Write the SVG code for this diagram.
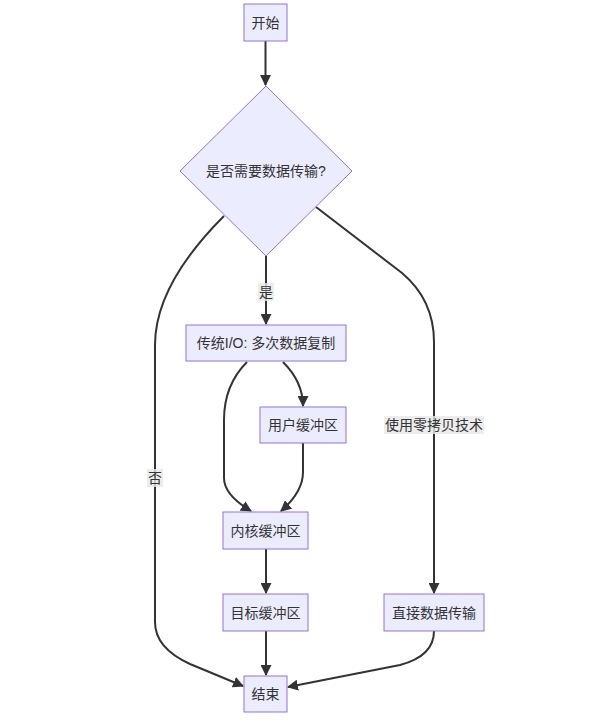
<svg xmlns="http://www.w3.org/2000/svg" width="590" height="720" viewBox="0 0 590 720">
<defs>
<marker id="arr" viewBox="0 0 10 10" refX="9" refY="5" markerUnits="userSpaceOnUse" markerWidth="11" markerHeight="11" orient="auto">
<path d="M0,0 L10,5 L0,10 z" fill="#333333"/>
</marker>
<style>
.node rect, .node polygon { fill: #ECECFF; stroke: #9370DB; stroke-width: 1px; }
text { font-family: "Liberation Sans", "Noto Sans CJK SC", sans-serif; font-size: 14px; fill: #333333; text-anchor: middle; dominant-baseline: central; }
.edge { fill: none; stroke: #333333; stroke-width: 2px; marker-end: url(#arr); }
.lbl { fill: #e8e8e8; fill-opacity: 0.8; stroke: none; }
</style>
</defs>
<rect width="590" height="720" fill="#ffffff"/>
<g id="connectors">
<path class="edge" d="M265.5,41 L265.5,85"/>
<path class="edge" d="M266,256 L266,324"/>
<path class="edge" d="M224,216 Q155,285 155,345 L155,622 Q155,648 190,664 L243,686"/>
<path class="edge" d="M316,207 L402,273 Q434,300 434,342 L434,593"/>
<path class="edge" d="M283,362 Q303,382 303,406"/>
<path class="edge" d="M247,362 Q224,385 224,420 L224,478 Q224,495 251,511"/>
<path class="edge" d="M303,443 L303,472 Q303,492 281,511"/>
<path class="edge" d="M266,549 L266,593"/>
<path class="edge" d="M266,631 L266,675"/>
<path class="edge" d="M434,631 Q434,656 400,665 L288,687"/>
<rect class="lbl" x="258" y="283" width="16" height="18"/>
<text x="266" y="292">是</text>
<rect class="lbl" x="147" y="469" width="16" height="18"/>
<text x="155" y="478">否</text>
<rect class="lbl" x="384" y="416" width="100" height="18"/>
<text x="434" y="425">使用零拷贝技术</text>
</g>
<g id="start" class="node">
<rect x="244" y="4" width="43" height="37"/>
<text x="265.5" y="22.5">开始</text>
</g>
<g id="decision" class="node">
<polygon points="266,86 352,171 266,256 180,171"/>
<text x="266" y="171">是否需要数据传输?</text>
</g>
<g id="traditional" class="node">
<rect x="186" y="325" width="160" height="36"/>
<text x="266" y="343">传统I/O: 多次数据复制</text>
</g>
<g id="userbuf" class="node">
<rect x="260" y="407" width="86" height="36"/>
<text x="303" y="425">用户缓冲区</text>
</g>
<g id="kernelbuf" class="node">
<rect x="223" y="512" width="85" height="37"/>
<text x="265.5" y="530.5">内核缓冲区</text>
</g>
<g id="targetbuf" class="node">
<rect x="223" y="594" width="85" height="37"/>
<text x="265.5" y="612.5">目标缓冲区</text>
</g>
<g id="direct" class="node">
<rect x="384" y="594" width="100" height="37"/>
<text x="434" y="612.5">直接数据传输</text>
</g>
<g id="end" class="node">
<rect x="244" y="676" width="43" height="36"/>
<text x="265.5" y="694">结束</text>
</g>
</svg>
